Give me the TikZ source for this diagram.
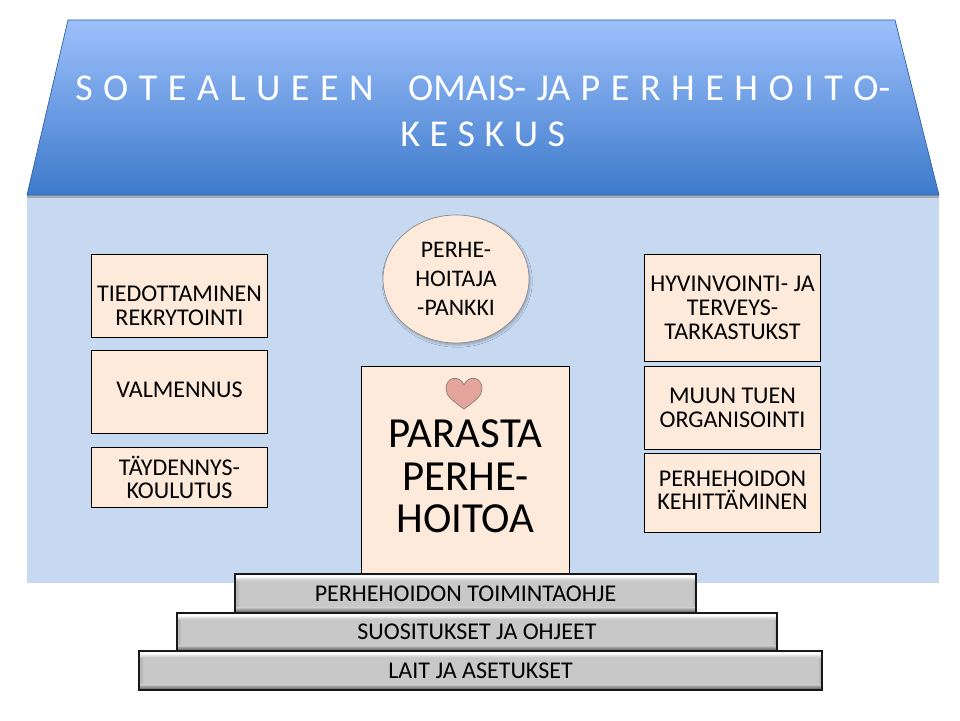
\documentclass[tikz,border=0pt]{standalone}
\usepackage{fontspec}
\setmainfont{Carlito}
\usetikzlibrary{positioning, shadows.blur, shapes.geometric}
\usepackage{xcolor}
\definecolor{wallblue}{HTML}{C6D9F1}
\definecolor{rooftop}{HTML}{9DC0FB}
\definecolor{roofbottom}{HTML}{3D7ACB}
\definecolor{boxfill}{HTML}{FDEADA}
\definecolor{stepgray}{HTML}{C8C8C8}
\definecolor{heartfill}{HTML}{E6A59C}
\tikzstyle{infobox} = [
rectangle,
minimum width=4.4cm,
align=center,
fill=boxfill,
draw=black,
line width=0.7pt,
inner sep=0pt,
font=\fontsize{17.1}{17}\selectfont
]
\tikzstyle{stepbox} = [
rectangle,
minimum height=0.975cm,
fill=stepgray,
draw=black!90,
line width=1pt,
inner sep=0pt,
outer sep=0pt,
font=\fontsize{17.1}{18}\selectfont,
path picture={
\shade[left color=gray!55,right color=stepgray] (path picture bounding box.south west) rectangle ([xshift=3pt]path picture bounding box.north west);
\shade[left color=stepgray,right color=gray!70] ([xshift=-3pt]path picture bounding box.south east) rectangle (path picture bounding box.north east);
\fill[white!90!stepgray] (path picture bounding box.north west) rectangle ([yshift=-1.8pt]path picture bounding box.north east);
\shade[top color=white!90!stepgray,bottom color=stepgray,middle color=white!40!stepgray] ([yshift=-1.8pt]path picture bounding box.north west) rectangle ([yshift=-4.5pt]path picture bounding box.north east);
\shade[top color=stepgray,bottom color=gray!60!black] ([yshift=4pt]path picture bounding box.south west) rectangle (path picture bounding box.south east);
}
]
\begin{document}
\begin{tikzpicture}
        \useasboundingbox (0,0) rectangle (24,18);

        % talon runko ja katto
        \fill[wallblue] (0.675,3.425) rectangle (23.475,13.125);
        \fill[black!45,opacity=0.6] (0.675,13.05) rectangle (23.475,13.125);
        \draw[top color=rooftop,bottom color=roofbottom,draw=roofbottom!80!black,line width=0.5pt]
        (1.7,17.5)--(22.375,17.5)--(23.475,13.125)--(0.675,13.125)--cycle;

        \node(title)[text=white,align=center,text width=23.5cm,font=\fontsize{27}{32.7}\selectfont]
        at (12.07,15.225)
        {\spaceskip=0.278em S O T E A L U E E N\hspace{0.6cm} OMAIS- JA P E R H E H O I T O-\\
        \spaceskip=0.25em K E S K U S};

        % vasen sarake
        \node(tiedotus)[infobox,minimum height=2.075cm,anchor=north west]
        at (2.275,11.65)
        {\rule{0pt}{25pt}TIEDOTTAMINEN\\REKRYTOINTI};

        \node(valmennus)[infobox,minimum height=2.075cm,below=0.3cm of tiedotus]
        {VALMENNUS\rule[-3pt]{0pt}{3pt}};

        \node(koulutus)[infobox,minimum height=1.5cm,below=0.325cm of valmennus]
        {TÄYDENNYS-\\KOULUTUS};

        % oikea sarake
        \node(tarkastus)[infobox,minimum height=2.675cm,anchor=north west]
        at (16.1,11.65)
        {HYVINVOINTI- JA\\TERVEYS-\\TARKASTUKST};

        \node(tuki)[infobox,minimum height=2.075cm,below=0.1cm of tarkastus]
        {MUUN TUEN\\ORGANISOINTI};

        \node(kehitys)[infobox,minimum height=1.975cm,below=0.075cm of tuki]
        {PERHEHOIDON\\KEHITTÄMINEN\rule[-4pt]{0pt}{4pt}};

        % keskiosa
        \node(pankki)[ellipse,fill=boxfill,draw=black!45,line width=0.5pt,
        minimum width=3.65cm,minimum height=3.2cm,inner sep=0pt,align=center,
        blur shadow={shadow xshift=0.8pt,shadow yshift=-1.5pt,shadow blur steps=5,shadow blur radius=1.5pt,shadow opacity=25},
        font=\fontsize{16.9}{20.6}\selectfont]
        at (11.4,11.025)
        {PERHE-\\HOITAJA\\-PANKKI};

        \node(parasta)[infobox,minimum width=5.2cm,minimum height=5.175cm,
        anchor=north west,font=\fontsize{30.5}{30.2}\selectfont]
        at (9.025,8.85)
        {\rule{0pt}{29pt}PARASTA\\PERHE-\\HOITOA};

        \draw[fill=heartfill,draw=black!50,line width=0.5pt]
        (11.6,7.775) .. controls (11.3,8.0) and (11.15,8.1) .. (11.15,8.28)
        .. controls (11.15,8.6) and (11.5,8.62) .. (11.6,8.38)
        .. controls (11.7,8.62) and (12.05,8.6) .. (12.05,8.28)
        .. controls (12.05,8.1) and (11.9,8.0) .. (11.6,7.775);

        % portaat
        \node(lait)[stepbox,minimum width=17.075cm,anchor=north west]
        at (3.475,1.725)
        {LAIT JA ASETUKSET};

        \node(suositus)[stepbox,minimum width=15cm,minimum height=0.95cm,above=0cm of lait,xshift=-0.0875cm]
        {SUOSITUKSET JA OHJEET};

        \node(ohje)[stepbox,minimum width=11.525cm,above=0cm of suositus,xshift=-0.2875cm]
        {PERHEHOIDON TOIMINTAOHJE};

\end{tikzpicture}
\end{document}
